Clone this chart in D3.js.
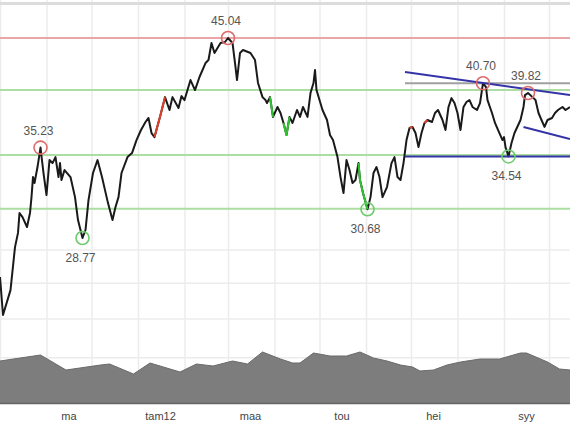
<!DOCTYPE html>
<html><head><meta charset="utf-8">
<script src="https://cdn.jsdelivr.net/npm/d3@7"></script>
<style>body{margin:0;background:#fff}svg{display:block}</style>
</head><body>
<svg id="c" width="570" height="428"></svg>
<script>
// ---------- data ----------
const dates = ["2011-10-01","2011-10-03","2011-10-08","2011-10-11","2011-10-13","2011-10-14","2011-10-16","2011-10-19","2011-10-21","2011-10-22","2011-10-23","2011-10-24","2011-10-26","2011-10-28","2011-10-30",
"2011-11-01","2011-11-03","2011-11-05","2011-11-07","2011-11-09","2011-11-10","2011-11-11","2011-11-13","2011-11-17","2011-11-20","2011-11-22","2011-11-25","2011-11-27","2011-11-29",
"2011-12-02","2011-12-05","2011-12-08","2011-12-10","2011-12-12","2011-12-15","2011-12-17","2011-12-19","2011-12-21","2011-12-25","2011-12-28","2011-12-31",
"2012-01-03","2012-01-06","2012-01-08","2012-01-10","2012-01-12","2012-01-16","2012-01-19","2012-01-22","2012-01-24","2012-01-28","2012-01-30",
"2012-02-01","2012-02-05","2012-02-08","2012-02-11","2012-02-15","2012-02-17","2012-02-19","2012-02-21","2012-02-25","2012-02-28",
"2012-03-01","2012-03-04","2012-03-06","2012-03-07","2012-03-09","2012-03-11","2012-03-16","2012-03-19","2012-03-21","2012-03-24","2012-03-26","2012-03-27","2012-03-29","2012-03-31",
"2012-04-03","2012-04-05","2012-04-07","2012-04-09","2012-04-11","2012-04-13","2012-04-16","2012-04-18","2012-04-20","2012-04-23","2012-04-25","2012-04-27","2012-04-28","2012-04-29",
"2012-05-01","2012-05-03","2012-05-06","2012-05-08","2012-05-10","2012-05-13","2012-05-15","2012-05-17","2012-05-19","2012-05-21","2012-05-23","2012-05-25","2012-05-27","2012-05-28","2012-05-30",
"2012-06-02","2012-06-04","2012-06-06","2012-06-08","2012-06-10","2012-06-12","2012-06-15","2012-06-18","2012-06-20","2012-06-22","2012-06-24","2012-06-26","2012-06-28","2012-06-30",
"2012-07-02","2012-07-04","2012-07-06","2012-07-08","2012-07-10","2012-07-12","2012-07-15","2012-07-17","2012-07-19","2012-07-22","2012-07-24","2012-07-26","2012-07-28","2012-07-30",
"2012-08-01","2012-08-03","2012-08-05","2012-08-07","2012-08-09","2012-08-11","2012-08-14","2012-08-16","2012-08-18","2012-08-20","2012-08-21","2012-08-24","2012-08-26","2012-08-28","2012-08-31",
"2012-09-01","2012-09-02","2012-09-04","2012-09-06","2012-09-08","2012-09-12","2012-09-14","2012-09-15","2012-09-17","2012-09-20","2012-09-22","2012-09-24","2012-09-26","2012-09-28","2012-09-30",
"2012-10-03","2012-10-05","2012-10-07","2012-10-10","2012-10-12","2012-10-15"];
const prices = [26.36,24.21,25.60,28.19,29.10,30.43,30.15,29.49,30.43,31.53,32.98,32.54,33.73,35.23,33.28,
31.68,34.26,34.03,34.49,32.98,34.03,32.76,33.50,32.98,31.53,29.95,28.77,29.29,31.32,
33.28,34.26,32.98,32.03,31.11,29.95,30.84,31.53,33.28,34.49,34.80,35.83,
36.65,37.31,37.65,36.40,36.07,37.91,39.45,38.33,39.45,38.50,39.54,
39.19,40.99,40.08,41.27,42.58,42.87,44.54,43.55,44.54,44.64,
45.04,44.54,42.20,40.99,43.55,43.84,43.55,42.87,40.72,39.45,39.19,38.93,39.45,37.74,
38.59,38.07,37.23,36.24,37.74,37.23,38.33,37.74,38.59,37.74,39.81,40.72,41.92,40.08,
39.19,38.33,37.48,36.24,35.83,34.49,32.98,31.82,34.26,33.50,32.54,32.76,34.03,32.76,31.82,
30.68,31.53,33.28,33.73,32.98,31.53,32.25,34.03,34.49,32.98,32.76,34.03,35.83,36.82,
36.90,36.40,35.27,36.40,37.23,37.48,37.31,38.07,38.33,37.48,36.65,38.59,39.36,38.93,
38.07,36.65,38.59,39.02,39.19,38.59,38.33,38.93,40.70,40.35,39.19,38.07,37.23,36.65,35.83,
36.07,35.27,34.54,35.59,36.40,37.48,38.59,39.63,39.82,39.45,39.19,38.07,37.48,36.90,37.48,
37.65,38.07,38.33,38.59,38.33,38.59];

const volDates = ["2011-10-01","2011-10-28","2011-11-14","2011-12-07","2011-12-13","2011-12-29","2012-01-09","2012-01-29","2012-02-09","2012-02-20","2012-03-04","2012-03-14","2012-03-24","2012-04-05","2012-04-13","2012-04-18","2012-04-27","2012-05-08","2012-05-19","2012-05-28","2012-06-06","2012-06-15","2012-06-24","2012-07-02","2012-07-07","2012-07-16","2012-07-25","2012-08-03","2012-08-16","2012-08-29","2012-09-12","2012-09-16","2012-09-30","2012-10-08","2012-10-15"];
const volumes = [420,480,330,380,390,290,400,310,390,370,420,390,510,440,400,400,500,470,470,510,450,420,380,360,320,330,380,410,440,440,500,500,410,340,330];

const redSpans = [["2012-01-12","2012-01-19"],["2012-06-30","2012-07-02"],["2012-07-10","2012-07-12"]];
const greenSpans = [["2012-03-29","2012-03-31"],["2012-04-07","2012-04-11"],["2012-05-27","2012-06-02"]];

const levelValues = [45.04, 40.08, 34.66, 30.72];
const levelKinds  = ["res","sup","sup","sup"];

const extremeDates  = ["2011-10-28","2011-11-25","2012-03-01","2012-06-02","2012-08-18","2012-09-04","2012-09-17"];
const extremeValues = [35.23, 28.77, 45.04, 30.68, 40.70, 34.54, 39.82];
const extremeKinds  = ["high","low","high","low","high","low","high"];

const trendStart = "2012-06-27", trendEnd = "2012-10-15";
const upperTrend = [41.74, 39.63];
const lowerTrend = [34.54, 34.54];
const shortTrendDates = ["2012-09-14","2012-10-15"];
const shortTrend = [36.90, 35.91];
const grayLevel = 40.70;

const priceGridValues = [28, 26, 24, 22];
const monthLabels = ["ma","tam12","maa","tou","hei","syy"];
const monthLabelDates = ["2011-11-16","2012-01-16","2012-03-16","2012-05-16","2012-07-16","2012-09-16"];

// ---------- chart ----------
const W = 570, H = 428;
const parse = d3.utcParse("%Y-%m-%d");
const svg = d3.select("#c");
const x = d3.scaleUtc().domain([parse("2011-10-01"), parse("2012-10-15")]).range([0, W]);
const y = d3.scaleLog().domain([28.77, 45.04]).range([238, 38]);
const yv = d3.scaleLinear().domain([0, 1000]).range([403, 303]);

const series = dates.map((d, i) => ({d: parse(d), v: prices[i]}));
const vol = volDates.map((d, i) => ({d: parse(d), v: volumes[i]}));

// grid
const g = svg.append("g");
d3.utcMonth.range(parse("2011-10-01"), parse("2012-10-15")).forEach(m => {
  g.append("line").attr("x1", x(m)+0.5).attr("x2", x(m)+0.5).attr("y1", 0).attr("y2", 403)
    .attr("stroke", "#ececec").attr("stroke-width", 1.5);
});
priceGridValues.forEach(v => {
  g.append("line").attr("x1", 0).attr("x2", W).attr("y1", y(v)).attr("y2", y(v))
    .attr("stroke", "#ececec").attr("stroke-width", 1.5);
});
// top frame
svg.append("line").attr("x1", 0).attr("x2", W).attr("y1", 3.5).attr("y2", 3.5)
  .attr("stroke", "#dcdcdc").attr("stroke-width", 3);

// levels
levelValues.forEach((v, i) => {
  svg.append("line").attr("x1", 0).attr("x2", W).attr("y1", y(v)).attr("y2", y(v))
    .attr("stroke", levelKinds[i] === "res" ? "#eaa6a6" : "#abdea0").attr("stroke-width", 2);
});

// volume
svg.append("path").datum(vol)
  .attr("d", d3.area().x(d => x(d.d)).y0(yv(0)).y1(d => yv(d.v)))
  .attr("fill", "#7d7d7d");
svg.append("path").datum(vol)
  .attr("d", d3.line().x(d => x(d.d)).y(d => yv(d.v)))
  .attr("fill", "none").attr("stroke", "#6a6a6a").attr("stroke-width", 1);
svg.append("line").attr("x1", 0).attr("x2", W).attr("y1", yv(0)+0.5).attr("y2", yv(0)+0.5)
  .attr("stroke", "#666").attr("stroke-width", 1.5);

// gray level in the channel
svg.append("line").attr("x1", x(parse(trendStart))).attr("x2", x(parse(trendEnd)))
  .attr("y1", y(grayLevel)).attr("y2", y(grayLevel)).attr("stroke", "#a0a0a0").attr("stroke-width", 2);

// price line
const line = d3.line().x(d => x(d.d)).y(d => y(d.v));
svg.append("path").datum(series).attr("d", line)
  .attr("fill", "none").attr("stroke", "#1a1a1a").attr("stroke-width", 2).attr("stroke-linejoin", "round");
function spanPath(span, color) {
  const a = parse(span[0]), b = parse(span[1]);
  const seg = series.filter(d => d.d >= a && d.d <= b);
  svg.append("path").datum(seg).attr("d", line)
    .attr("fill", "none").attr("stroke", color).attr("stroke-width", 2).attr("stroke-linejoin", "round");
}
redSpans.forEach(s => spanPath(s, "#e0402a"));
greenSpans.forEach(s => spanPath(s, "#2fc42f"));

// trend lines
const blue = "#3434a8";
const tl = (d0, d1, v0, v1) => svg.append("line")
  .attr("x1", x(parse(d0))).attr("x2", x(parse(d1))).attr("y1", y(v0)).attr("y2", y(v1))
  .attr("stroke", blue).attr("stroke-width", 2);
tl(trendStart, trendEnd, upperTrend[0], upperTrend[1]);
tl(trendStart, trendEnd, lowerTrend[0], lowerTrend[1]);
tl(shortTrendDates[0], shortTrendDates[1], shortTrend[0], shortTrend[1]);

// extremes
extremeDates.forEach((d, i) => {
  const cx = x(parse(d)), cy = y(extremeValues[i]);
  const hi = extremeKinds[i] === "high";
  svg.append("circle").attr("cx", cx).attr("cy", cy).attr("r", 6.5)
    .attr("fill", "none").attr("stroke", hi ? "#e06a6a" : "#6ccc6c").attr("stroke-width", 1.6);
  svg.append("text").attr("x", cx - 2).attr("y", hi ? cy - 13 : cy + 24)
    .attr("text-anchor", "middle").attr("font-family", "Liberation Sans, Arial, sans-serif")
    .attr("font-size", 12).attr("fill", "#555").text(extremeValues[i].toFixed(2));
});

// x labels
monthLabels.forEach((t, i) => {
  svg.append("text").attr("x", x(parse(monthLabelDates[i]))).attr("y", 420)
    .attr("text-anchor", "middle").attr("font-family", "Liberation Sans, Arial, sans-serif")
    .attr("font-size", 11).attr("fill", "#444").text(t);
});
</script>
</body></html>
